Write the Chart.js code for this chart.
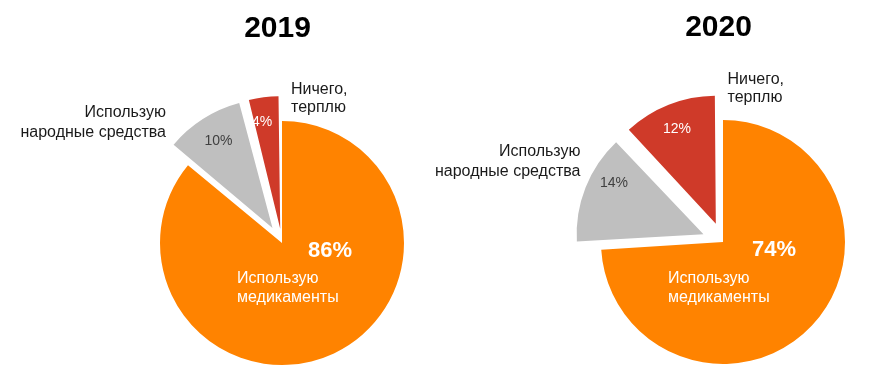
<!DOCTYPE html>
<html>
<head>
<meta charset="utf-8">
<script src="https://cdn.jsdelivr.net/npm/chart.js@4.4.0/dist/chart.umd.min.js"></script>
<style>
  html, body { margin: 0; padding: 0; background: #fff; }
  #wrap { position: relative; width: 876px; height: 391px; overflow: hidden; }
  .box { position: absolute; top: 0; height: 391px; }
  #box2019 { left: 0; width: 438px; }
  #box2020 { left: 400px; width: 476px; }
</style>
</head>
<body>
<div id="wrap">
  <div class="box" id="box2019"><canvas id="chart2019"></canvas></div>
  <div class="box" id="box2020"><canvas id="chart2020"></canvas></div>
</div>
<script>
// Dados
const categories = [
  ['Использую', 'медикаменты'],
  ['Использую', 'народные средства'],
  ['Ничего,', 'терплю']
];
const years = ['2019', '2020'];
const values2019 = [86, 10, 4];
const values2020 = [74, 14, 12];
const sliceColors = ['#FF8300', '#BFBFBF', '#CF3A29'];

const FONT = 'Arial, "Liberation Sans", sans-serif';

// desenha título, percentuais e nomes das fatias
const sliceLabels = {
  id: 'sliceLabels',
  afterDatasetsDraw(chart, args, opts) {
    const ctx = chart.ctx;
    const meta = chart.getDatasetMeta(0);
    const values = chart.data.datasets[0].data;
    const cx = meta.data[0].x;
    const cy = meta.data[0].y;
    ctx.save();
    ctx.textBaseline = 'alphabetic';

    ctx.fillStyle = '#000';
    ctx.textAlign = 'center';
    ctx.font = 'bold 30px ' + FONT;
    ctx.fillText(opts.title, cx + opts.titlePos.x, cy + opts.titlePos.y);

    meta.data.forEach((arc, i) => {
      const p = opts.pct[i];
      ctx.textAlign = 'center';
      ctx.font = (i === 0 ? 'bold 22px ' : '14px ') + FONT;
      ctx.fillStyle = i === 1 ? '#404040' : '#fff';
      ctx.fillText(values[i] + '%', cx + p.x, cy + p.y);

      const c = opts.cat[i];
      ctx.textAlign = c.align;
      ctx.font = '16px ' + FONT;
      ctx.fillStyle = i === 0 ? '#fff' : '#1a1a1a';
      chart.data.labels[i].forEach((line, k) => {
        ctx.fillText(line, cx + c.x, cy + c.y + k * c.lh);
      });
    });
    ctx.restore();
  }
};

function makePie(id, values, year, padding, offsets, pct, cat) {
  return new Chart(document.getElementById(id), {
    type: 'pie',
    data: {
      labels: categories,
      datasets: [{
        data: values,
        backgroundColor: sliceColors,
        borderWidth: 0,
        offset: offsets
      }]
    },
    options: {
      responsive: true,
      maintainAspectRatio: false,
      animation: false,
      events: [],
      radius: 122,
      layout: { padding: padding },
      plugins: {
        legend: { display: false },
        tooltip: { enabled: false },
        sliceLabels: {
          title: year,
          titlePos: { x: -4.5, y: -206 },
          pct: pct,
          cat: cat
        }
      }
    },
    plugins: [sliceLabels]
  });
}

// v4 divide o offset por 4 e soma uma correção para fatias estreitas
makePie('chart2019', values2019, years[0],
  { left: 126, top: 95 },
  [0, 71, 57],
  [{ x: 48, y: 14 }, { x: -63.5, y: -98 }, { x: -20, y: -117 }],
  [
    { x: -45, y: 40, lh: 18.5, align: 'left' },
    { x: -116, y: -126, lh: 20, align: 'right' },
    { x: 9, y: -149, lh: 18, align: 'left' }
  ]);

makePie('chart2020', values2020, years[1],
  { left: 170, top: 93 },
  [0, 84, 78],
  [{ x: 51, y: 14 }, { x: -109, y: -55.5 }, { x: -46, y: -109 }],
  [
    { x: -55, y: 41, lh: 18.5, align: 'left' },
    { x: -142.5, y: -86, lh: 20, align: 'right' },
    { x: 4.5, y: -158.5, lh: 18, align: 'left' }
  ]);
</script>
</body>
</html>
